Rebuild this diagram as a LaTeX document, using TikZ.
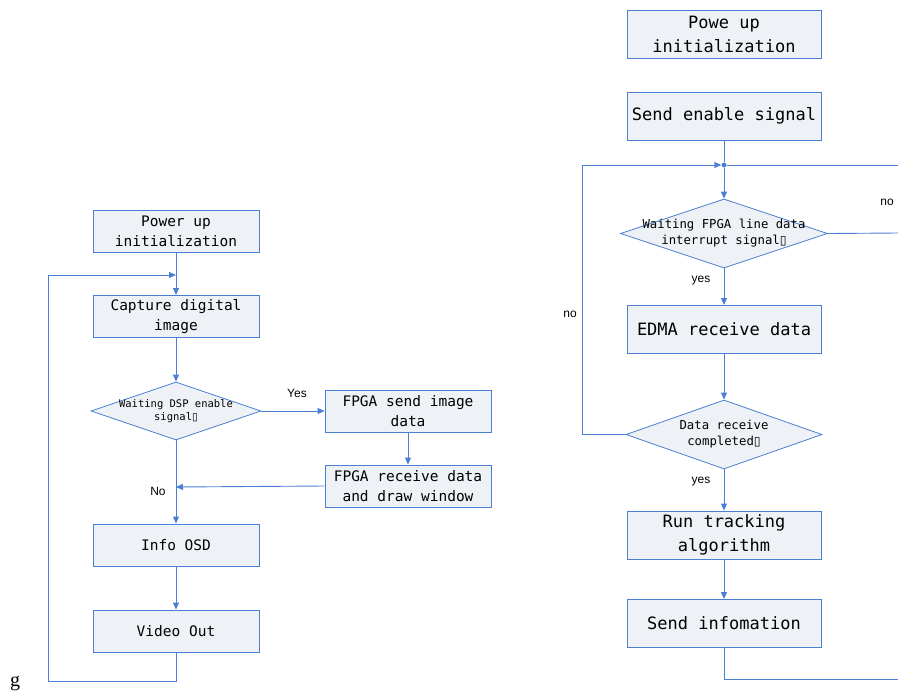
\documentclass[tikz,border=0pt]{standalone}
\usepackage{fontspec}
\setmainfont{Liberation Sans}
\newfontfamily\serifg{Liberation Serif}
\newfontfamily\symfont{DejaVu Sans}
\newfontfamily\monof{DejaVu Sans Mono}
\usetikzlibrary{shapes.geometric,arrows.meta}
\definecolor{lineblue}{HTML}{4A7FD4}
\definecolor{boxfill}{HTML}{EEF2F7}
\newcommand{\qbox}{{\symfont\char"25AF}}
\tikzset{
  boxl/.style={draw=lineblue, fill=boxfill, line width=0.9pt, minimum width=166pt, minimum height=42pt, inner sep=1pt, align=center, font=\monof\fontsize{14.5}{20}\selectfont},
  boxr/.style={draw=lineblue, fill=boxfill, line width=0.9pt, minimum width=194pt, minimum height=48pt, inner sep=1pt, align=center, font=\monof\fontsize{17}{24}\selectfont},
  dia/.style={diamond, draw=lineblue, fill=boxfill, line width=0.8pt, inner sep=0pt},
  dtextl/.style={align=center, font=\monof\fontsize{10.5}{13}\selectfont, inner sep=0pt},
  dtextr/.style={align=center, font=\monof\fontsize{12.3}{16}\selectfont, inner sep=0pt},
  conn/.style={draw=lineblue, line width=0.9pt},
  arr/.style={conn, -{Triangle[length=7pt,width=6pt]}},
  lab/.style={font=\fontsize{12}{14}\selectfont, inner sep=0pt}
}
\begin{document}
\begin{tikzpicture}[x=1pt,y=-1pt]
\useasboundingbox (0,0) rectangle (898,697);
% left chart
\node[boxl] (p1) at (176,231) {Power up\\initialization};
\node[boxl] (cap) at (176,316.5) {Capture digital\\image};
\node[dia, minimum width=170pt, minimum height=58pt, label={[dtextl]center:{Waiting DSP enable\\signal\qbox}}] (d0) at (176,411) {};
\node[boxl] (fs) at (408,411) {FPGA send image\\data};
\node[boxl] (fr) at (408,486) {FPGA receive data\\and draw window};
\node[boxl] (osd) at (176,545) {Info OSD};
\node[boxl] (vo) at (176,631) {Video Out};
\coordinate (m0) at (176,275);
\coordinate (n0) at (176,487);
\node[lab] (yes0) at (297,393) {Yes};
\node[lab] (no0) at (158,491) {No};
\draw[arr] (p1.south) -- (cap.north);
\draw[arr] (cap.south) -- (d0.north);
\draw[arr] (d0.east) -- (fs.west);
\draw[arr] (fs.south) -- (fr.north);
\draw[arr] (fr.west) -- (n0);
\draw[arr] (d0.south) -- (osd.north);
\draw[arr] (osd.south) -- (vo.north);
\draw[arr] (vo.south) -- (176,681) -| (48,275) -- (m0);
\node[font=\serifg\fontsize{20}{22}\selectfont, inner sep=0pt] (g) at (15,684) {g};
% right chart
\node[boxr] (p2) at (724,34) {Powe up\\initialization};
\node[boxr] (se) at (724,116) {Send enable signal};
\node[circle, fill=lineblue, inner sep=0pt, minimum size=5pt] (j) at (724,165) {};
\node[dia, minimum width=207pt, minimum height=69pt, label={[dtextr]center:{Waiting FPGA line data\\interrupt signal\qbox}}] (d1) at (724,233.5) {};
\node[boxr] (edma) at (724,329.5) {EDMA receive data};
\node[dia, minimum width=196pt, minimum height=69pt, label={[dtextr]center:{Data receive\\completed\qbox}}] (d2) at (724,434.5) {};
\node[boxr] (run) at (724,535) {Run tracking\\algorithm};
\node[boxr] (si) at (724,623.5) {Send infomation};
\coordinate (rj) at (898,165);
\coordinate (rd) at (898,233);
\coordinate (rb) at (898,679);
\node[lab] (no1) at (887,202) {no};
\node[lab] (yes1) at (701,281) {yes};
\node[lab] (no2) at (570,314) {no};
\node[lab] (yes2) at (701,482) {yes};
\draw[conn] (se.south) -- (j);
\draw[conn] (rj) -- (j);
\draw[arr] (j) -- (d1.north);
\draw[conn] (d1.east) -- (rd);
\draw[arr] (d1.south) -- (edma.north);
\draw[arr] (edma.south) -- (d2.north);
\draw[arr] (d2.west) -| (582,165) -- (j.west);
\draw[arr] (d2.south) -- (run.north);
\draw[arr] (run.south) -- (si.north);
\draw[conn] (si.south) |- (rb);
\end{tikzpicture}
\end{document}
